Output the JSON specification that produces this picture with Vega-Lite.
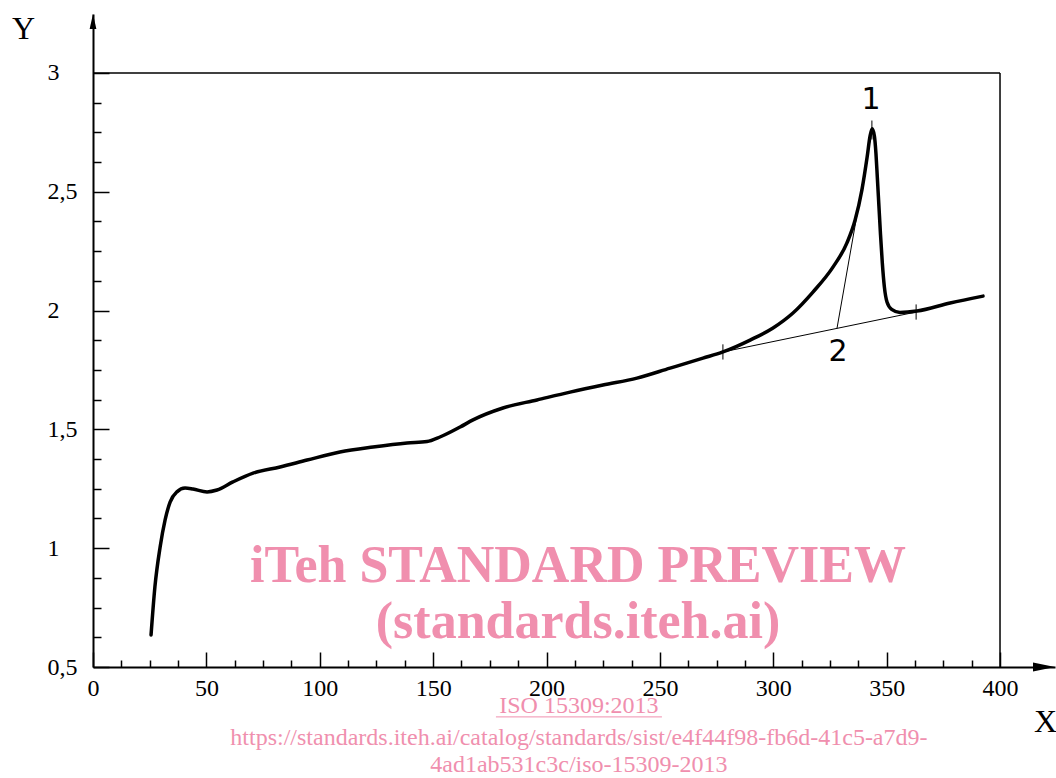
{
  "$schema": "https://vega.github.io/schema/vega-lite/v6.json",
  "width": 962,
  "height": 653,
  "autosize": {"type": "none"},
  "padding": {"left": 93, "top": 14, "right": 1, "bottom": 111},
  "background": "white",
  "config": {"view": {"stroke": null}},
  "datasets": {
    "curve": [
      {"x": 25.6, "y": 0.635}, {"x": 27.3, "y": 0.837}, {"x": 29.6, "y": 1.005}, {"x": 31.8, "y": 1.119},
      {"x": 34.0, "y": 1.194}, {"x": 37.0, "y": 1.237}, {"x": 40.6, "y": 1.253}, {"x": 44.1, "y": 1.249},
      {"x": 50.3, "y": 1.237}, {"x": 54.7, "y": 1.245}, {"x": 61.7, "y": 1.279}, {"x": 70.6, "y": 1.316},
      {"x": 82.5, "y": 1.342}, {"x": 94.4, "y": 1.371}, {"x": 108.9, "y": 1.405}, {"x": 123.5, "y": 1.426},
      {"x": 138.5, "y": 1.443}, {"x": 147.3, "y": 1.449}, {"x": 153.0, "y": 1.468}, {"x": 161.9, "y": 1.510},
      {"x": 167.6, "y": 1.540}, {"x": 180.8, "y": 1.590}, {"x": 195.8, "y": 1.624}, {"x": 210.4, "y": 1.657},
      {"x": 224.9, "y": 1.687}, {"x": 239.9, "y": 1.716}, {"x": 254.5, "y": 1.758}, {"x": 269.0, "y": 1.800},
      {"x": 277.8, "y": 1.826}, {"x": 289.8, "y": 1.876}, {"x": 299.9, "y": 1.927}, {"x": 308.7, "y": 1.990},
      {"x": 317.5, "y": 2.078}, {"x": 326.4, "y": 2.184}, {"x": 332.5, "y": 2.285}, {"x": 336.1, "y": 2.381},
      {"x": 339.1, "y": 2.508}, {"x": 341.4, "y": 2.646}, {"x": 342.7, "y": 2.735}, {"x": 343.6, "y": 2.765},
      {"x": 344.6, "y": 2.735}, {"x": 345.3, "y": 2.66}, {"x": 345.9, "y": 2.56}, {"x": 346.6, "y": 2.44},
      {"x": 347.3, "y": 2.32}, {"x": 348.1, "y": 2.20}, {"x": 349.0, "y": 2.10}, {"x": 350.2, "y": 2.035},
      {"x": 352.2, "y": 2.005}, {"x": 355.9, "y": 1.992},
      {"x": 363.4, "y": 1.998}, {"x": 378.0, "y": 2.032}, {"x": 392.5, "y": 2.061}
    ],
    "frame": [
      {"x": 0, "x2": 400, "y": 3, "y2": 3},
      {"x": 400, "x2": 400, "y": 0.5, "y2": 3}
    ],
    "construct": [
      {"x": 277.8, "x2": 363.0, "y": 1.826, "y2": 1.994},
      {"x": 328.1, "x2": 343.5, "y": 1.925, "y2": 2.76},
      {"x": 277.8, "x2": 277.8, "y": 1.794, "y2": 1.858},
      {"x": 363.0, "x2": 363.0, "y": 1.962, "y2": 2.026},
      {"x": 343.5, "x2": 343.5, "y": 2.72, "y2": 2.80}
    ],
    "marks": [
      {"x": 343.1, "y": 2.886, "label": "1"},
      {"x": 328.6, "y": 1.826, "label": "2"}
    ],
    "wmBig": [
      {"x": 213.9, "y": 0.858, "label": "iTeh STANDARD PREVIEW"},
      {"x": 213.9, "y": 0.622, "label": "(standards.iteh.ai)"}
    ],
    "wmSmall": [
      {"x": 214.3, "y": 0.306, "label": "ISO 15309:2013"},
      {"x": 214.3, "y": 0.172, "label": "https://standards.iteh.ai/catalog/standards/sist/e4f44f98-fb6d-41c5-a7d9-"},
      {"x": 214.3, "y": 0.058, "label": "4ad1ab531c3c/iso-15309-2013"}
    ],
    "underline": [
      {"x": 177.7, "x2": 250.9, "y": 0.29, "y2": 0.29}
    ],
    "arrowX": [{"x": 419.4, "y": 0.5}],
    "arrowY": [{"x": 0, "y": 3.2167}]
  },
  "encoding": {
    "x": {
      "field": "x", "type": "quantitative",
      "scale": {"domain": [0, 424.25], "nice": false, "zero": false},
      "axis": {
        "values": [0, 12.5, 25, 37.5, 50, 62.5, 75, 87.5, 100, 112.5, 125, 137.5, 150, 162.5, 175, 187.5, 200, 212.5, 225, 237.5, 250, 262.5, 275, 287.5, 300, 312.5, 325, 337.5, 350, 362.5, 375, 387.5, 400],
        "labelExpr": "datum.value % 50 === 0 ? format(datum.value, 'd') : ''",
        "grid": false,
        "domainColor": "black", "domainWidth": 2,
        "tickColor": "black", "tickWidth": 1.5,
        "tickSize": {"condition": {"test": "datum.value % 50 === 0", "value": -15}, "value": -7},
        "labelFont": "Liberation Serif", "labelFontSize": 24, "labelColor": "black",
        "labelPadding": 24, "labelBaseline": "top", "labelFlush": false, "labelOverlap": false, "labelBound": false,
        "title": "X", "titleFont": "Liberation Serif", "titleFontSize": 32, "titleFontWeight": "normal", "titleColor": "black",
        "titleX": 952, "titleY": 54, "titleAlign": "center", "titleBaseline": "middle", "titleAnchor": null
      }
    },
    "y": {
      "field": "y", "type": "quantitative",
      "scale": {"domain": [0.5, 3.2483], "nice": false, "zero": false},
      "axis": {
        "values": [0.5, 0.625, 0.75, 0.875, 1, 1.125, 1.25, 1.375, 1.5, 1.625, 1.75, 1.875, 2, 2.125, 2.25, 2.375, 2.5, 2.625, 2.75, 2.875, 3],
        "labelExpr": "datum.value % 0.5 === 0 ? replace(format(datum.value, '~g'), '.', ',') : ''",
        "grid": false,
        "domainColor": "black", "domainWidth": 2,
        "tickColor": "black", "tickWidth": 1.5,
        "tickSize": {"condition": {"test": "datum.value % 0.5 === 0", "value": -16}, "value": -8},
        "labelFont": "Liberation Serif", "labelFontSize": 24, "labelColor": "black",
        "labelPadding": 62, "labelAlign": "left", "labelBaseline": "middle", "labelFlush": false, "labelOverlap": false, "labelBound": false,
        "title": "Y", "titleFont": "Liberation Serif", "titleFontSize": 32, "titleFontWeight": "normal", "titleColor": "black",
        "titleAngle": 0, "titleX": -70, "titleY": 14, "titleAlign": "center", "titleBaseline": "middle", "titleAnchor": null
      }
    }
  },
  "layer": [
    {
      "data": {"name": "frame"},
      "mark": {"type": "rule", "color": "black", "strokeWidth": 1.5},
      "encoding": {"x2": {"field": "x2"}, "y2": {"field": "y2"}}
    },
    {
      "data": {"name": "construct"},
      "mark": {"type": "rule", "color": "black", "strokeWidth": 1},
      "encoding": {"x2": {"field": "x2"}, "y2": {"field": "y2"}}
    },
    {
      "data": {"name": "curve"},
      "mark": {"type": "line", "color": "black", "strokeWidth": 3.5, "interpolate": "monotone", "strokeCap": "round"},
      "encoding": {}
    },
    {
      "data": {"name": "arrowX"},
      "mark": {"type": "point", "shape": "M1,0L-1,-0.4L-1,0.4Z", "size": 484, "filled": true, "color": "black", "opacity": 1}
    },
    {
      "data": {"name": "arrowY"},
      "mark": {"type": "point", "shape": "M0,-1L-0.45,1L0.45,1Z", "size": 225, "filled": true, "color": "black", "opacity": 1}
    },
    {
      "data": {"name": "marks"},
      "mark": {"type": "text", "font": "DejaVu Sans", "fontSize": 30, "color": "black", "align": "center", "baseline": "middle"},
      "encoding": {"text": {"field": "label"}}
    },
    {
      "data": {"name": "wmBig"},
      "mark": {"type": "text", "font": "Liberation Serif", "fontSize": 52, "fontWeight": "bold", "color": "#F08FAE", "align": "center", "baseline": "alphabetic"},
      "encoding": {"text": {"field": "label"}}
    },
    {
      "data": {"name": "wmSmall"},
      "mark": {"type": "text", "font": "Liberation Serif", "fontSize": 24, "color": "#F08FAE", "align": "center", "baseline": "alphabetic"},
      "encoding": {"text": {"field": "label"}}
    },
    {
      "data": {"name": "underline"},
      "mark": {"type": "rule", "color": "#F08FAE", "strokeWidth": 1},
      "encoding": {"x2": {"field": "x2"}, "y2": {"field": "y2"}}
    }
  ]
}
